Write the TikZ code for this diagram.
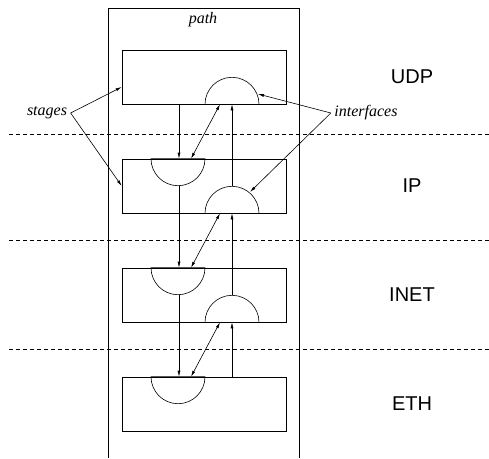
\documentclass[tikz,border=0pt]{standalone}
\usepackage{fontspec}
\setmainfont{Liberation Serif}
\setsansfont{Liberation Sans}
\usetikzlibrary{arrows.meta,calc}
\tikzset{
  stagebox/.style={draw, minimum width=164pt, minimum height=54pt, inner sep=0pt},
  layer/.style={font=\sffamily\fontsize{20}{24}\selectfont},
  note/.style={font=\itshape\fontsize{16}{19}\selectfont},
  sep/.style={dash pattern=on 4pt off 3pt},
  conn/.style={-{Latex[length=6pt,width=3pt]}},
  bothconn/.style={{Latex[length=6pt,width=3pt]}-{Latex[length=6pt,width=3pt]}}
}
\begin{document}
\begin{tikzpicture}[x=1pt,y=-1pt,line width=0.6pt]
\useasboundingbox (0,0) rectangle (489,458);
% the path box, open at the bottom
\draw (108,458) |- (299,8) -- (299,458);
\node[note] (pathlbl) at (203,20) {path};
% layer separators
\foreach \y in {134,240,349}
  \draw[sep] (9,\y) -- (489,\y);
% stages
\foreach \n/\t/\y in {udp/UDP/77, ip/IP/186, inet/INET/295, eth/ETH/404} {
  \node[stagebox] (\n) at (204,\y) {};
  \node[layer] (\n-lbl) at (412,\y) {\t};
}
% interfaces
\foreach \n in {udp,ip,inet}
  \draw ([xshift=55pt]\n.south) arc[start angle=0, end angle=-180, radius=27] -- cycle;
\foreach \n in {ip,inet,eth}
  \draw ([xshift=1pt]\n.north) arc[start angle=0, end angle=180, radius=27] -- cycle;
\coordinate (udp-lo) at ([xshift=-25pt]udp.south);
\coordinate (ip-lo) at ([xshift=-25pt,yshift=-27pt]ip.north);
\coordinate (inet-lo) at ([xshift=-25pt,yshift=-27pt]inet.north);
\coordinate (ip-hi) at ([xshift=28pt,yshift=27pt]ip.south);
\coordinate (inet-hi) at ([xshift=28pt,yshift=27pt]inet.south);
\coordinate (eth-hi) at ([xshift=28pt]eth.north);
% connectors between stages
\foreach \a/\b in {udp/ip, ip/inet, inet/eth} {
  \draw[conn] (\a-lo) -- (\a-lo |- \b.north);
  \draw[conn] (\b-hi) -- (\b-hi |- \a.south);
  \draw[bothconn] ([xshift=16pt]\a.south) -- ([xshift=-13pt]\b.north);
}
% callouts
\node[note] (stages) at (47,113) {stages};
\node[note] (ifaces) at (366,113) {interfaces};
\draw[conn] (stages.east) -- ([yshift=-10pt]udp.west);
\draw[conn] (stages.east) -- (ip.west);
\draw[conn] (ifaces.west) -- (258,94);
\draw[conn] (ifaces.west) -- (250,192);
\end{tikzpicture}
\end{document}
